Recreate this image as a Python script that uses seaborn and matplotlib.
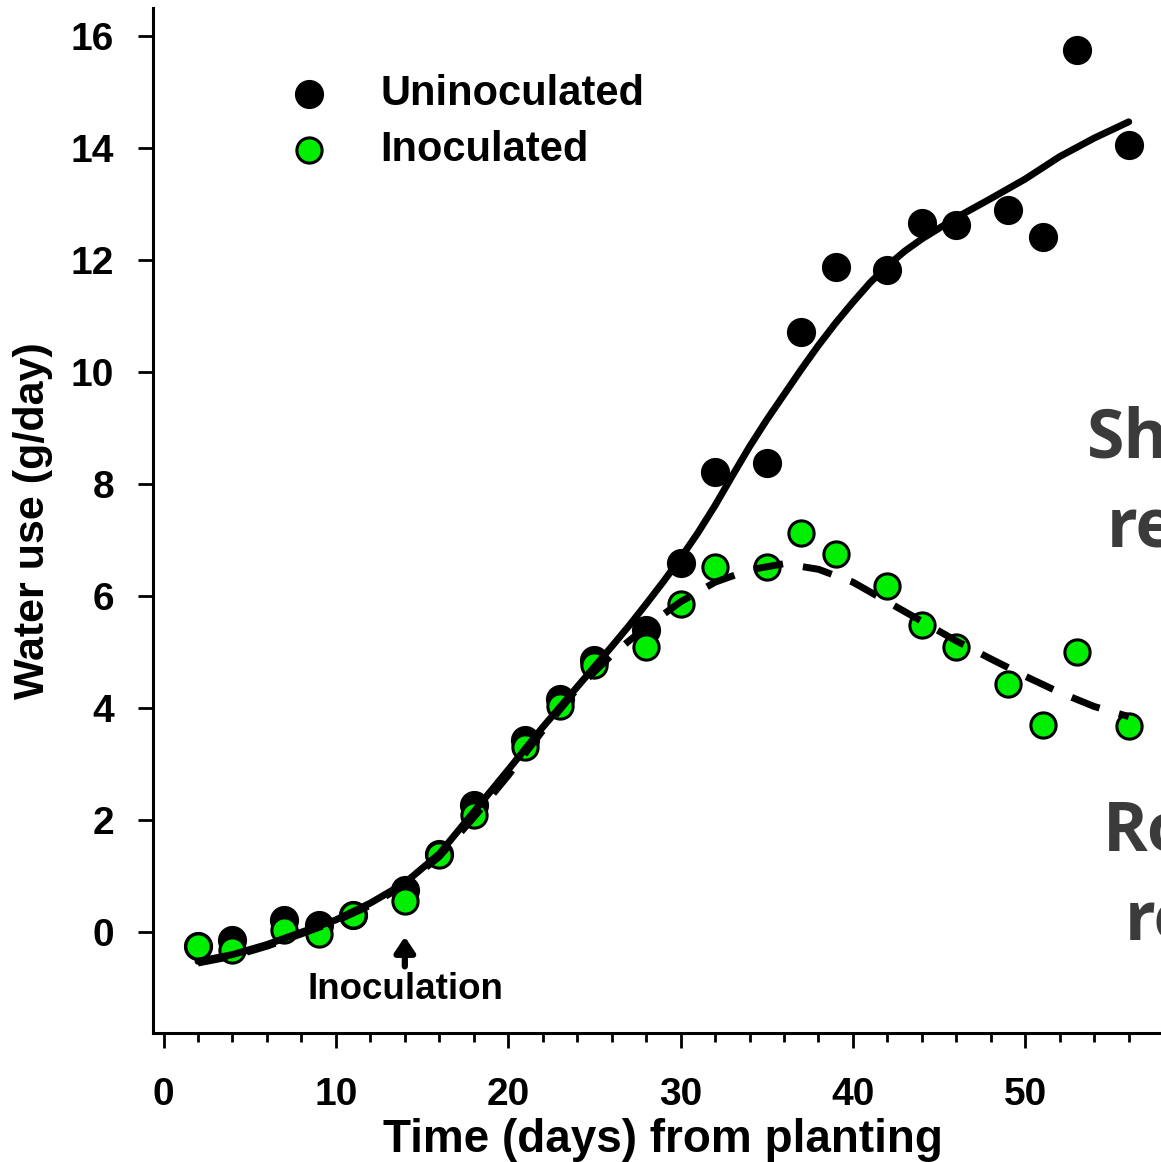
import numpy as np
import pandas as pd
import matplotlib
matplotlib.use('Agg')
import matplotlib.pyplot as plt
import seaborn as sns

# observed daily water use (g/day)
days = [2, 4, 7, 9, 11, 14, 16, 18, 21, 23, 25, 28, 30, 32, 35, 37, 39, 42, 44, 46, 49, 51, 53, 56]
uninoculated = [-0.25, -0.14, 0.21, 0.12, 0.30, 0.75, 1.40, 2.27, 3.43, 4.16, 4.86, 5.39, 6.60, 8.21,
                8.38, 10.71, 11.88, 11.82, 12.66, 12.63, 12.89, 12.41, 15.75, 14.05]
inoculated = [-0.25, -0.32, 0.04, -0.04, 0.30, 0.55, 1.38, 2.09, 3.30, 4.04, 4.77, 5.09, 5.86, 6.52,
              6.52, 7.13, 6.75, 6.18, 5.48, 5.09, 4.43, 3.70, 5.00, 3.68]

# smoothed fits
fit_days_u = [2, 4, 6, 8, 10, 12, 14, 16, 18, 20, 22, 24, 26, 27, 28, 29, 30, 31, 32, 33, 34, 35, 36,
              37, 38, 39, 40, 41, 42, 43, 44, 46, 48, 50, 52, 54, 56]
fit_uninoc = [-0.52, -0.40, -0.22, 0.00, 0.22, 0.52, 0.88, 1.40, 2.15, 2.90, 3.66, 4.38, 5.10, 5.47,
              5.86, 6.26, 6.68, 7.13, 7.62, 8.15, 8.67, 9.15, 9.60, 10.05, 10.48, 10.88, 11.25, 11.60,
              11.90, 12.16, 12.38, 12.76, 13.10, 13.45, 13.85, 14.18, 14.47]
fit_days_i = [2, 4, 6, 8, 10, 12, 14, 16, 18, 20, 22, 24, 26, 28, 30, 32, 34, 36, 38, 40, 42, 44, 46,
              48, 50, 52, 54, 56]
fit_inoc = [-0.55, -0.43, -0.25, -0.03, 0.20, 0.48, 0.85, 1.35, 2.05, 2.80, 3.60, 4.35, 4.95, 5.45, 5.90,
            6.25, 6.47, 6.58, 6.48, 6.25, 5.90, 5.55, 5.20, 4.88, 4.57, 4.28, 4.03, 3.85]

pts = pd.DataFrame({'day': days, 'Uninoculated': uninoculated, 'Inoculated': inoculated})
fit_u = pd.DataFrame({'day': fit_days_u, 'water': fit_uninoc})
fit_i = pd.DataFrame({'day': fit_days_i, 'water': fit_inoc})

sns.set_style('ticks')
plt.rcParams['font.family'] = ['Liberation Sans', 'DejaVu Sans']
plt.rcParams['font.weight'] = 'bold'
for k in ['text.color', 'axes.labelcolor', 'xtick.color', 'ytick.color', 'axes.edgecolor']:
    plt.rcParams[k] = 'black'

fig = plt.figure(figsize=(11.61, 11.62), dpi=100)
ax = fig.add_axes([0.1318, 0.111, 0.8998, 0.882])

sns.scatterplot(data=pts, x='day', y='Uninoculated', ax=ax, color='black', s=380,
                edgecolor='black', linewidth=1.5, label='Uninoculated', zorder=2)
sns.scatterplot(data=pts, x='day', y='Inoculated', ax=ax, color='#00ee00', s=330,
                edgecolor='black', linewidth=2.2, label='Inoculated', zorder=3)
sns.lineplot(data=fit_u, x='day', y='water', ax=ax, color='black', lw=5,
             errorbar=None, zorder=4)
sns.lineplot(data=fit_i, x='day', y='water', ax=ax, color='black', lw=5,
             linestyle=(0, (4.3, 2.9)), dash_capstyle='butt', errorbar=None, zorder=5)

ax.set_xlim(-0.61, 60)
ax.set_ylim(-1.8, 16.5)
ax.set_xticks(range(0, 60, 10))
ax.set_xticks(range(0, 58, 2), minor=True)
ax.set_yticks(range(0, 17, 2))
for s in ['top', 'right']:
    ax.spines[s].set_visible(False)
for s in ['left', 'bottom']:
    ax.spines[s].set_linewidth(2.2)
ax.tick_params(axis='both', which='major', length=11, width=2, labelsize=28, direction='out')
ax.tick_params(axis='x', which='major', pad=21)
ax.tick_params(axis='y', which='major', pad=17)
ax.tick_params(axis='x', which='minor', length=6.5, width=2, direction='out')

ax.set_xlabel('Time (days) from planting', fontsize=33, fontweight='bold')
ax.xaxis.set_label_coords(0.488, -0.104)
ax.xaxis.label.set_va('center')
ax.set_ylabel('Water use (g/day)', fontsize=31, fontweight='bold')
ax.yaxis.set_label_coords(-0.115, 0.5)
ax.yaxis.label.set_va('center')

leg = ax.legend(loc='upper left', bbox_to_anchor=(0.133, 0.936), frameon=False, fontsize=30,
                handlelength=0.8, handletextpad=1.32, labelspacing=0.38, borderpad=0,
                borderaxespad=0, markerscale=1.0)
for t in leg.get_texts():
    t.set_fontweight('bold')

ax.annotate('', xy=(14, -0.03), xytext=(14, -0.66),
            arrowprops=dict(arrowstyle='-|>,head_width=0.6,head_length=0.9', lw=4.5, color='black'))
ax.text(14.05, -1.03, 'Inoculation', ha='center', va='center', fontsize=26.5, fontweight='bold')

gray = '#3b3b3b'
for x, y, s in [(53.6, 8.48, 'Shoot'), (54.7, 6.875, 'response'),
                (54.5, 1.46, 'Root'), (55.75, -0.14, 'response')]:
    ax.text(x, y, s, ha='left', va='baseline', fontsize=49, fontweight='bold', color=gray,
            family=['Open Sans', 'DejaVu Sans'], clip_on=False)

fig.savefig('out.png', dpi=100)
